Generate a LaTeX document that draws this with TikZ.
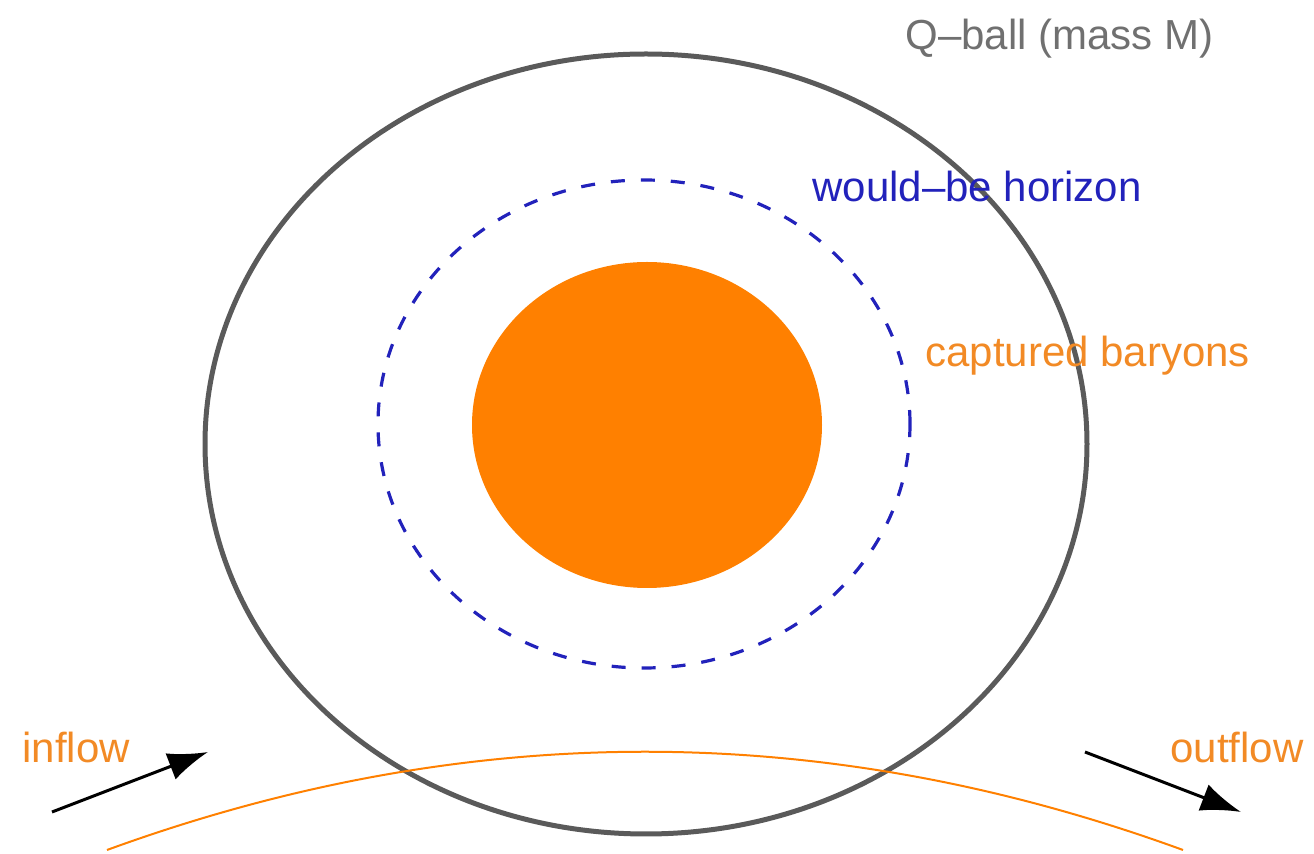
\documentclass[tikz,border=0pt]{standalone}
\usepackage{fontspec}
\setmainfont{Liberation Sans}
\usepackage{xcolor}
\usepackage{tikz}
\usetikzlibrary{arrows.meta}
\definecolor{ballgray}{HTML}{5A5A5A}
\definecolor{lblgray}{HTML}{707070}
\definecolor{horizonblue}{HTML}{2222BB}
\definecolor{baryonorange}{HTML}{FF8000}
\definecolor{lblorange}{HTML}{F28A25}
\tikzset{
  qball/.style={draw=ballgray, line width=2.5pt},
  horizon/.style={draw=horizonblue, line width=1.6pt, dash pattern=on 7pt off 8pt},
  core/.style={fill=baryonorange, draw=none},
  stream/.style={draw=baryonorange, line width=1pt},
  flowarr/.style={-{Latex[length=20pt, width=14pt]}, line width=1.5pt, draw=black},
  lbl/.style={font=\fontsize{21}{25}\selectfont, inner sep=0pt, anchor=base west},
}

\begin{document}
\begin{tikzpicture}[x=0.5pt, y=-0.5pt]
\useasboundingbox (0,0) rectangle (1314,854);

%% =====================================================================
%% Q-ball, would-be horizon, captured baryons
%% =====================================================================
\draw[qball] (646,444) ellipse [x radius=220.5pt, y radius=195pt];
\draw[horizon] (644,424) ellipse [x radius=133pt, y radius=122pt];
\fill[core] (647,425) ellipse [x radius=87.5pt, y radius=81.5pt];

\node[lbl, text=lblgray] (qb_lbl) at (905,50) {Q\textendash ball (mass M)};
\node[lbl, text=horizonblue] (hz_lbl) at (812,202) {would\textendash be horizon};
\node[lbl, text=lblorange] (cb_lbl) at (925,367) {captured baryons};

%% =====================================================================
%% Baryon stream passing through the Q-ball
%% =====================================================================
\coordinate (st_l) at (107,850);
\coordinate (st_r) at (1183,850);
\draw[stream] (st_l) .. controls (466,719) and (824,719) .. (st_r);

\coordinate (in_a) at (52,812);
\coordinate (in_b) at (208,752);
\coordinate (out_a) at (1085,752);
\coordinate (out_b) at (1241,812);
\draw[flowarr] (in_a) -- (in_b);
\draw[flowarr] (out_a) -- (out_b);

\node[lbl, text=lblorange] (in_lbl) at (22,763) {inflow};
\node[lbl, text=lblorange] (out_lbl) at (1170,763) {outflow};

\end{tikzpicture}
\end{document}
